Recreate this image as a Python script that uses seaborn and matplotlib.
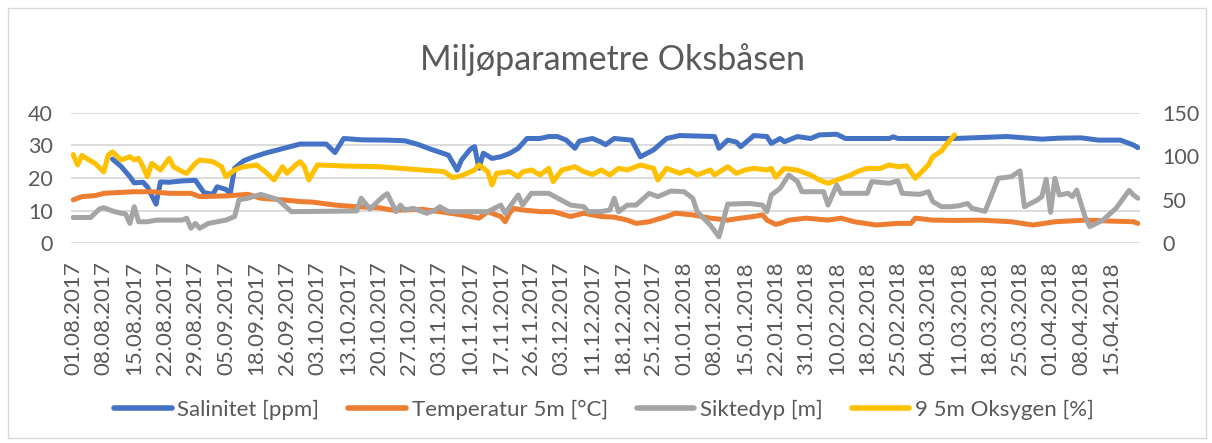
import pandas as pd
import matplotlib.pyplot as plt
import seaborn as sns
from matplotlib.patches import Rectangle

# Category axis: one slot per measurement, a date label on every 7th
n_obs = 245
date_labels = ["01.08.2017", "08.08.2017", "15.08.2017", "22.08.2017", "29.08.2017",
               "05.09.2017", "18.09.2017", "26.09.2017", "03.10.2017", "13.10.2017",
               "20.10.2017", "27.10.2017", "03.11.2017", "10.11.2017", "17.11.2017",
               "26.11.2017", "03.12.2017", "11.12.2017", "18.12.2017", "25.12.2017",
               "01.01.2018", "08.01.2018", "15.01.2018", "22.01.2018", "31.01.2018",
               "10.02.2018", "18.02.2018", "25.02.2018", "04.03.2018", "11.03.2018",
               "18.03.2018", "25.03.2018", "01.04.2018", "08.04.2018", "15.04.2018"]

# Salinitet [ppm] (left axis)
sal_obs = [9, 11, 13, 14, 16, 17, 19, 20, 22, 25, 28, 30, 32, 33, 35, 36, 37, 39, 41, 44,
           48, 52, 58, 60, 62, 66, 72, 76, 79, 82, 86, 88, 89, 91, 92, 93, 94, 96, 98, 100,
           102, 104, 107, 109, 111, 113, 115, 116, 119, 121, 122, 124, 128, 130, 133, 136, 139, 147, 148, 150,
           152, 153, 156, 159, 160, 162, 163, 166, 169, 171, 175, 177, 187, 188, 189, 202, 214, 222, 226, 231,
           235, 240, 243, 244]
sal = [25.8, 23.5, 20.4, 18.5, 18.7, 17.3, 12.0, 18.8, 18.7, 19.1, 19.3, 15.5, 15.0, 17.3, 16.5, 15.3, 23.0, 25.2, 26.3, 27.6,
       29.0, 30.4, 30.4, 27.8, 32.1, 31.7, 31.6, 31.4, 30.3, 28.8, 27.0, 22.4, 25.5, 28.8, 29.6, 23.0, 27.6, 26.0, 26.5, 27.5,
       29.1, 32.1, 32.1, 32.7, 32.7, 31.6, 29.1, 31.3, 32.1, 31.0, 30.2, 32.1, 31.6, 26.5, 28.6, 32.1, 33.0, 32.7, 29.1, 31.6,
       31.0, 29.6, 33.0, 32.7, 30.6, 32.1, 31.1, 32.7, 32.1, 33.2, 33.4, 32.1, 32.1, 32.6, 32.1, 32.1, 32.7, 31.9, 32.2, 32.3,
       31.6, 31.6, 30.1, 29.3]

# Temperatur 5m [°C] (left axis)
temp_obs = [0, 2, 5, 7, 14, 18, 22, 27, 29, 35, 40, 43, 48, 52, 55, 60, 65, 70, 73, 76,
            80, 84, 89, 93, 95, 98, 99, 100, 101, 103, 107, 110, 114, 117, 121, 124, 127, 129, 132, 136,
            138, 142, 146, 150, 153, 156, 158, 159, 161, 162, 164, 168, 173, 176, 179, 184, 189, 192, 193, 197,
            202, 208, 215, 220, 225, 232, 238, 243, 244]
temp = [13.3, 14.3, 14.6, 15.3, 15.8, 15.8, 15.3, 15.3, 14.3, 14.5, 15.0, 13.8, 13.3, 12.8, 12.6, 11.7, 11.2, 10.9, 10.2, 10.2,
        10.4, 9.7, 8.7, 7.7, 9.7, 8.2, 6.6, 9.2, 10.7, 10.2, 9.7, 9.7, 8.2, 9.2, 8.2, 8.0, 7.1, 6.1, 6.6, 8.2,
        9.2, 8.7, 7.7, 7.1, 7.7, 8.2, 8.7, 7.1, 5.8, 6.1, 7.1, 7.7, 7.1, 7.7, 6.6, 5.6, 6.1, 6.1, 7.7, 7.1,
        7.0, 7.1, 6.6, 5.6, 6.6, 7.1, 6.8, 6.6, 6.1]

# Siktedyp [m] (left axis)
sikt_obs = [0, 4, 6, 7, 9, 11, 12, 13, 14, 15, 17, 19, 25, 26, 27, 28, 29, 31, 35, 37,
            38, 40, 43, 46, 47, 50, 65, 66, 68, 71, 72, 74, 75, 76, 78, 81, 83, 84, 86, 95,
            98, 99, 102, 103, 105, 109, 114, 117, 118, 121, 123, 124, 125, 127, 129, 132, 134, 137, 140, 142,
            143, 146, 148, 150, 155, 158, 159, 160, 162, 164, 166, 167, 172, 173, 175, 176, 182, 183, 187, 189,
            190, 194, 196, 197, 199, 201, 203, 205, 206, 209, 212, 215, 217, 218, 221, 222, 223, 224, 225, 226,
            228, 229, 230, 232, 233, 236, 239, 242, 243, 244]
sikt = [7.9, 7.9, 10.5, 10.9, 9.9, 9.2, 9.0, 6.1, 11.2, 6.6, 6.6, 7.1, 7.1, 7.7, 4.6, 6.1, 4.6, 6.1, 7.1, 8.2,
        13.3, 13.8, 15.0, 13.8, 13.3, 9.7, 9.9, 13.8, 10.5, 14.3, 15.2, 9.7, 11.7, 10.2, 10.7, 9.2, 10.2, 11.2, 9.7, 9.7,
        11.7, 9.2, 14.8, 11.7, 15.3, 15.3, 11.7, 11.2, 9.7, 9.7, 10.2, 13.8, 9.7, 11.7, 11.7, 15.3, 14.3, 16.0, 15.8, 13.8,
        9.7, 5.6, 2.0, 12.0, 12.2, 11.7, 9.7, 14.8, 16.8, 20.9, 18.9, 15.8, 15.8, 11.7, 17.9, 15.3, 15.3, 18.9, 18.4, 19.1,
        15.3, 15.0, 15.8, 12.8, 11.2, 11.2, 11.5, 12.2, 10.7, 9.8, 19.9, 20.4, 22.2, 11.2, 13.3, 14.3, 19.6, 9.5, 19.9, 14.8,
        15.3, 14.3, 16.3, 7.7, 5.1, 7.1, 10.7, 16.2, 14.8, 13.8]

# 9 5m Oksygen [%] (right axis)
oks_obs = [0, 1, 2, 3, 5, 7, 8, 9, 11, 13, 14, 15, 16, 17, 18, 20, 22, 23, 25, 26,
           28, 29, 32, 34, 35, 37, 39, 41, 42, 44, 46, 48, 49, 51, 52, 53, 54, 56, 62, 70,
           75, 80, 85, 87, 89, 92, 93, 95, 96, 97, 100, 102, 103, 105, 107, 109, 110, 112, 115, 117,
           119, 121, 123, 125, 127, 130, 133, 134, 136, 139, 141, 143, 146, 147, 150, 152, 154, 156, 159, 160,
           161, 163, 166, 169, 171, 173, 175, 178, 180, 182, 185, 187, 189, 191, 193, 196, 197, 199, 200, 202]
oks = [102, 90, 101, 97.6, 91.8, 82, 101, 105, 95.7, 99.5, 95.7, 97.6, 88, 76.5, 91.8, 84.2, 97.6, 88, 82.3, 80.4,
       91.8, 95.7, 93.8, 88, 76.5, 84.2, 88, 89, 90, 82.3, 72.7, 88, 80.4, 90, 93.8, 88, 72.7, 90, 88.8, 88,
       86.1, 84.2, 82.3, 75.4, 77.7, 84.2, 90, 82.3, 67, 80.4, 82.3, 76.5, 82, 84.2, 78.5, 86.1, 70.8, 84.2, 88, 82.3,
       79, 84.2, 78.5, 86.1, 84.2, 90, 86.1, 72.7, 86.1, 80.4, 84.2, 78.5, 84.2, 78.5, 88, 80.4, 84.2, 86.1, 84.2, 86.1,
       76, 86, 84, 78.5, 72.7, 68.9, 72.7, 78, 83, 86, 86, 90, 88, 89, 74.7, 90, 99.5, 106, 112.9, 124.4]

colors = {"sal": "#4472C4", "temp": "#ED7D31", "sikt": "#A5A5A5", "oks": "#FFC000"}
text_col = "#595959"

sns.set_style("white")
plt.rcParams['font.family'] = ['Lato', 'DejaVu Sans']

fig = plt.figure(figsize=(12.12, 4.43), dpi=100)
ax = fig.add_axes([71 / 1212, 1 - 243.3 / 443, (1140 - 71) / 1212, (243.3 - 112.7) / 443])
ax2 = ax.twinx()

lw = 3.6
sns.lineplot(data=pd.DataFrame({"obs": sal_obs, "v": sal}), x="obs", y="v", ax=ax,
             color=colors["sal"], linewidth=lw, label="Salinitet [ppm]")
sns.lineplot(data=pd.DataFrame({"obs": temp_obs, "v": temp}), x="obs", y="v", ax=ax,
             color=colors["temp"], linewidth=lw, label="Temperatur 5m [°C]")
sns.lineplot(data=pd.DataFrame({"obs": sikt_obs, "v": sikt}), x="obs", y="v", ax=ax,
             color=colors["sikt"], linewidth=lw, label="Siktedyp [m]")
sns.lineplot(data=pd.DataFrame({"obs": oks_obs, "v": oks}), x="obs", y="v", ax=ax2,
             color=colors["oks"], linewidth=lw, label="9 5m Oksygen [%]")

ax.set_xlim(-0.5, n_obs - 0.5)
ax.set_ylim(0, 40)
ax2.set_ylim(0, 150)
ax.set_yticks([0, 10, 20, 30, 40])
ax2.set_yticks([0, 50, 100, 150])
ax.set_xticks(range(0, 7 * len(date_labels), 7))
ax.set_xticklabels(date_labels, rotation=90)

ax.grid(axis='y', color="#D9D9D9", linewidth=1.3)
ax.grid(axis='x', visible=False)
ax.set_axisbelow(True)
for a in (ax, ax2):
    for s in a.spines.values():
        s.set_visible(False)
    a.set_xlabel("")
    a.set_ylabel("")
ax.tick_params(axis='x', length=0, pad=13, labelsize=16, labelcolor=text_col)
ax.tick_params(axis='y', length=0, pad=13, labelsize=15.5, labelcolor=text_col)
ax2.tick_params(axis='y', length=0, pad=16, labelsize=15.5, labelcolor=text_col)

# combined legend at the bottom
h1, l1 = ax.get_legend_handles_labels()
h2, l2 = ax2.get_legend_handles_labels()
ax.get_legend().remove()
ax2.get_legend().remove()
leg = fig.legend(h1 + h2, l1 + l2, loc="center", bbox_to_anchor=(604 / 1212, 1 - 410 / 443), ncol=4,
                 frameon=False, fontsize=16, labelcolor=text_col, handlelength=2.6,
                 handletextpad=0.25, columnspacing=1.3)
for line in leg.get_lines():
    line.set_linewidth(4)

fig.text(612 / 1212, 1 - 60 / 443, "Miljøparametre Oksbåsen", ha="center", va="center",
         fontsize=24.5, color=text_col)

fig.patches.append(Rectangle((8 / 1212, 5 / 443), 1198 / 1212, 430 / 443, transform=fig.transFigure,
                             fill=False, edgecolor="#D9D9D9", linewidth=1))

fig.savefig("out.png", dpi=100)
